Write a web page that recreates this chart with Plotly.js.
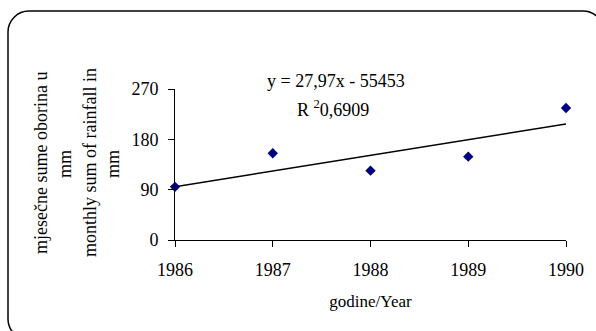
<!DOCTYPE html>
<html>
<head>
<meta charset="utf-8">
<script src="https://cdn.plot.ly/plotly-3.0.1.min.js"></script>
<style>
html,body{margin:0;padding:0;background:#fff;}
#chart{width:596px;height:331px;}
</style>
</head>
<body>
<div id="chart"></div>
<script>
// Data
const years = [1986, 1987, 1988, 1989, 1990];
const rainfall = [95, 155, 124, 149, 236];
// Trend line as given in the chart's equation: y = 27.97x - 55453
const slope = 27.97;
const intercept = -55453;
const trendYears = [1986, 1990];
const trendValues = trendYears.map(function(x){ return slope * x + intercept; });
const yTicks = [0, 90, 180, 270];
const yTickLabels = ['0', '90', '180', '270'];
const eqText = 'y = 27,97x - 55453';
const r2Text = 'R <sup>2</sup>0,6909';
const yTitleLines = ['mjesečne sume oborina u', 'mm', 'monthly sum of rainfall in', 'mm'];
const xTitle = 'godine/Year';

const W = 596, H = 331;
const M = {l: 175, r: 30, t: 89, b: 91};
const PW = W - M.l - M.r, PH = H - M.t - M.b;
function px(x){ return (x - M.l) / PW; }
function py(y){ return (H - M.b - y) / PH; }

// rounded border (extends beyond the picture on the right and bottom)
const bx0 = 8, by0 = 11, bx1 = 604, by1 = 340, rr = 21;
const k = 0.45;
const pathStr = [
  'M', px(bx0 + rr), py(by0),
  'L', px(bx1 - rr), py(by0),
  'C', px(bx1 - rr*k), py(by0), px(bx1), py(by0 + rr*k), px(bx1), py(by0 + rr),
  'L', px(bx1), py(by1 - rr),
  'C', px(bx1), py(by1 - rr*k), px(bx1 - rr*k), py(by1), px(bx1 - rr), py(by1),
  'L', px(bx0 + rr), py(by1),
  'C', px(bx0 + rr*k), py(by1), px(bx0), py(by1 - rr*k), px(bx0), py(by1 - rr),
  'L', px(bx0), py(by0 + rr),
  'C', px(bx0), py(by0 + rr*k), px(bx0 + rr*k), py(by0), px(bx0 + rr), py(by0),
  'Z'
].join(' ');

const font = {family: '"Liberation Serif", "Times New Roman", serif', size: 18, color: '#000'};

const traces = [
  {
    x: trendYears, y: trendValues, type: 'scatter', mode: 'lines',
    line: {color: '#000', width: 1.5}, cliponaxis: false, hoverinfo: 'skip', showlegend: false
  },
  {
    x: years, y: rainfall, type: 'scatter', mode: 'markers',
    marker: {symbol: 'diamond', size: 8, color: '#000080', line: {width: 0}},
    cliponaxis: false, showlegend: false
  }
];

const yTitleX = [41, 65, 90, 113];
const annotations = [
  {xref: 'paper', yref: 'paper', x: px(336), y: py(81), text: eqText, showarrow: false,
   xanchor: 'center', yanchor: 'middle', font: font},
  {xref: 'paper', yref: 'paper', x: px(333), y: py(108), text: r2Text, showarrow: false,
   xanchor: 'center', yanchor: 'middle', font: font}
];
yTitleLines.forEach(function(t, i){
  annotations.push({xref: 'paper', yref: 'paper', x: px(yTitleX[i]), y: py(i % 2 === 0 ? 163 : 164), textangle: -90,
    text: t, showarrow: false, xanchor: 'center', yanchor: 'middle', font: font});
});

const layout = {
  width: W, height: H,
  margin: M,
  paper_bgcolor: '#fff', plot_bgcolor: '#fff',
  font: font,
  showlegend: false,
  xaxis: {
    range: [1986, 1990], tickvals: years, ticktext: years.map(String),
    showgrid: false, zeroline: false, showline: true, linecolor: '#000', linewidth: 1,
    ticks: 'outside', ticklen: 6, tickcolor: '#000', tickwidth: 1,
    ticklabelstandoff: 7,
    tickfont: {family: font.family, size: 18, color: '#000'},
    title: {text: xTitle, font: {family: font.family, size: 17, color: '#000'}, standoff: 16},
    automargin: false, fixedrange: true
  },
  yaxis: {
    range: [0, 270], tickvals: yTicks, ticktext: yTickLabels,
    showgrid: false, zeroline: false, showline: true, linecolor: '#000', linewidth: 1,
    ticks: 'outside', ticklen: 6, tickcolor: '#000', tickwidth: 1,
    ticklabelstandoff: 6,
    tickfont: {family: font.family, size: 18, color: '#000'},
    automargin: false, fixedrange: true
  },
  shapes: [
    {type: 'path', xref: 'paper', yref: 'paper', path: pathStr, line: {color: '#000', width: 1.5}, fillcolor: 'rgba(0,0,0,0)', layer: 'below'}
  ],
  annotations: annotations
};

Plotly.newPlot('chart', traces, layout, {displayModeBar: false, staticPlot: true});
</script>
</body>
</html>
